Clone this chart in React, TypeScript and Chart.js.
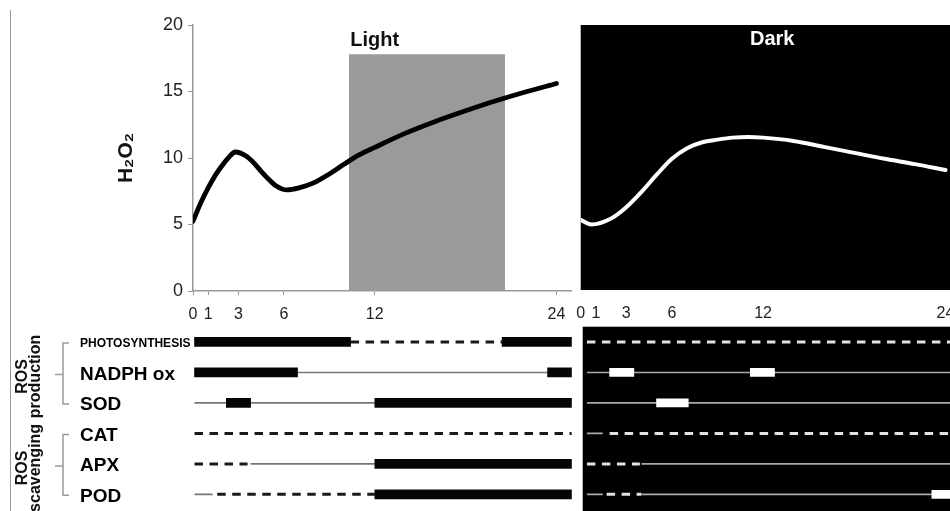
import React, { useEffect, useRef } from 'react';
import { Chart, registerables } from 'chart.js';

Chart.register(...registerables);

const FONT = "'Liberation Sans', Arial, Helvetica, sans-serif";
Chart.defaults.font.family = FONT;
Chart.defaults.color = '#222';

// ---------------- data ----------------
const hourTicks = [0, 1, 3, 6, 12, 24];
const h2o2Ticks = [0, 5, 10, 15, 20];

const lightHours = [0, 0.5, 1, 1.5, 2, 2.4, 2.8, 3.5, 4, 4.5, 5, 5.5, 6.2, 7, 8, 9, 10, 11, 12, 14, 16, 18, 20, 22, 24];
const lightH2O2 = [5.25, 6.6, 7.75, 8.75, 9.55, 10.1, 10.45, 10.15, 9.65, 9.0, 8.4, 7.9, 7.6, 7.75, 8.15, 8.8, 9.55, 10.25, 10.8, 11.85, 12.75, 13.55, 14.3, 14.98, 15.6];

const darkHours = [0, 0.7, 2, 3, 4, 5, 6, 7, 8, 9, 10, 11, 12, 14, 16, 18, 20, 22, 24];
const darkH2O2 = [5.3, 4.95, 5.4, 6.25, 7.4, 8.7, 9.9, 10.7, 11.15, 11.35, 11.5, 11.55, 11.5, 11.25, 10.8, 10.35, 9.9, 9.5, 9.05];

const lightPeriod = [10.3, 20.6];
const lightPeriodTop = 17.8;
const panelTitles = ['Light', 'Dark'];
const panelTitleHours = [12, 12.6];
const yAxisTitle = 'H₂O₂';

const rowLabels = ['PHOTOSYNTHESIS', 'NADPH ox', 'SOD', 'CAT', 'APX', 'POD'];
const groupTitles = [['ROS', 'production'], ['ROS', 'scavenging']];
const groupRows = [[0, 2], [3, 5]];

// [row, startHour, endHour]
const lightBars = [[0, 0.1, 10.4], [0, 20.4, 25], [1, 0.1, 6.9], [1, 23.4, 25], [2, 2.2, 3.8], [2, 12, 25], [4, 12, 25], [5, 12, 25]];
const lightThin = [[1, 6.9, 23.4], [2, 0.1, 2.2], [2, 3.8, 12], [4, 3.8, 12], [5, 0.1, 1.3]];
const lightDashed = [[0, 10.4, 20.4], [3, 0.1, 25], [4, 0.1, 3.6], [5, 1.6, 12]];

const darkBars = [[1, 1.5, 3.1], [1, 10.8, 12.4], [2, 4.6, 6.7], [5, 22.8, 24]];
const darkThin = [[1, 0, 1.5], [1, 3.1, 10.8], [1, 12.4, 24], [2, 0, 4.6], [2, 6.7, 24], [3, 0, 1.05], [4, 3.6, 24], [5, 0, 1.05], [5, 3.6, 22.8]];
const darkDashed = [[0, 0, 24], [3, 1.5, 24], [4, 0, 3.5], [5, 1.3, 3.6]];

// ---------------- helpers ----------------
const setHourTicks = (s: any) => {
  s.ticks = hourTicks.map((v) => ({ value: v }));
};

const periodLabel = (id: string, text: string, hour: number, color: string, yFn: (c: any) => number) => ({
  id,
  afterDatasetsDraw(chart: any) {
    const { ctx } = chart;
    const x = chart.scales.x.getPixelForValue(hour);
    ctx.save();
    ctx.font = `bold 20px ${FONT}`;
    ctx.fillStyle = color;
    ctx.textAlign = 'center';
    ctx.textBaseline = 'alphabetic';
    ctx.fillText(text, x, yFn(chart));
    ctx.restore();
  },
});

const blackArea = (toBottom: boolean) => ({
  id: 'blackArea',
  beforeDatasetsDraw(chart: any) {
    const { ctx, chartArea } = chart;
    ctx.save();
    ctx.fillStyle = '#000';
    const bottom = toBottom ? chart.height : chartArea.bottom;
    ctx.fillRect(chartArea.left, chartArea.top, chartArea.right - chartArea.left, bottom - chartArea.top);
    ctx.restore();
  },
});

const bracketPlugin = {
  id: 'brackets',
  afterDraw(chart: any) {
    const { ctx } = chart;
    const y = chart.scales.y;
    ctx.save();
    groupRows.forEach(([a, b], gi) => {
      const y1 = y.getPixelForValue(a) + 1;
      const y2 = y.getPixelForValue(b) + 1;
      const ym = (y1 + y2) / 2 + 1;
      ctx.strokeStyle = '#9a9a9a';
      ctx.lineWidth = 1.5;
      ctx.beginPath();
      ctx.moveTo(69, y1);
      ctx.lineTo(63, y1);
      ctx.lineTo(63, y2);
      ctx.lineTo(69, y2);
      ctx.moveTo(63, ym);
      ctx.lineTo(55, ym);
      ctx.stroke();
      ctx.fillStyle = '#111';
      ctx.font = `bold 16px ${FONT}`;
      ctx.textAlign = 'center';
      ctx.textBaseline = 'alphabetic';
      const [l1, l2] = groupTitles[gi];
      ctx.save();
      ctx.translate(27, ym + 2);
      ctx.rotate(-Math.PI / 2);
      ctx.fillText(l1, 0, 0);
      ctx.restore();
      ctx.save();
      ctx.translate(39.5, ym + 2);
      ctx.rotate(-Math.PI / 2);
      ctx.fillText(l2, 0, 0);
      ctx.restore();
    });
    ctx.restore();
  },
};

const segDatasets = (
  bars: number[][],
  thin: number[][],
  dashed: number[][],
  barColor: string,
  thinColor: string,
  dashColor: string,
  barThick: number
) => {
  const ds: any[] = [];
  ds.push({
    type: 'bar',
    data: bars.map(([r, a, b]) => ({ x: [a, b], y: rowLabels[r] })),
    backgroundColor: barColor,
    borderWidth: 0,
    barThickness: barThick,
    grouped: false,
    order: 0,
  });
  thin.forEach(([r, a, b]) =>
    ds.push({
      type: 'line',
      data: [{ x: a, y: rowLabels[r] }, { x: b, y: rowLabels[r] }],
      borderColor: thinColor,
      borderWidth: 1.6,
      pointRadius: 0,
      order: 1,
    })
  );
  dashed.forEach(([r, a, b]) =>
    ds.push({
      type: 'line',
      data: [{ x: a, y: rowLabels[r] }, { x: b, y: rowLabels[r] }],
      borderColor: dashColor,
      borderWidth: 3,
      borderDash: [8.5, 6.5],
      pointRadius: 0,
      order: 1,
    })
  );
  return ds;
};

const baseOpts = {
  responsive: false,
  animation: false,
  events: [],
  devicePixelRatio: 1,
  plugins: { legend: { display: false }, tooltip: { enabled: false } },
};

export default function App() {
  const refA = useRef<HTMLCanvasElement>(null);
  const refB = useRef<HTMLCanvasElement>(null);
  const refC = useRef<HTMLCanvasElement>(null);
  const refD = useRef<HTMLCanvasElement>(null);

  useEffect(() => {
    const charts: Chart[] = [];

    // Top-left: Light
    charts.push(
      new Chart(refA.current as HTMLCanvasElement, {
        type: 'line',
        data: {
          datasets: [
            {
              data: lightHours.map((h, i) => ({ x: h, y: lightH2O2[i] })),
              borderColor: '#000',
              borderWidth: 4.8,
              pointRadius: 0,
              cubicInterpolationMode: 'monotone',
              borderCapStyle: 'round',
              borderJoinStyle: 'round',
              fill: false,
              order: 0,
            },
            {
              data: [
                { x: lightPeriod[0], y: lightPeriodTop },
                { x: lightPeriod[1], y: lightPeriodTop },
              ],
              borderWidth: 0,
              pointRadius: 0,
              fill: 'origin',
              backgroundColor: '#9a9a9a',
              order: 1,
            },
          ],
        } as any,
        options: {
          ...baseOpts,
          layout: { padding: { left: 114, top: 25, right: 3.2, bottom: 0 } },
          scales: {
            x: {
              type: 'linear',
              min: 0,
              max: 25,
              afterBuildTicks: setHourTicks,
              afterFit: (s: any) => {
                s.height = 34;
              },
              grid: { display: true, drawOnChartArea: false, tickLength: 4, color: '#999' },
              border: { color: '#999', width: 1.5 },
              ticks: { font: { size: 16 }, padding: 9.5, color: '#222', autoSkip: false, maxRotation: 0 },
            },
            y: {
              min: 0,
              max: 20,
              afterBuildTicks: (s: any) => {
                s.ticks = h2o2Ticks.map((v) => ({ value: v }));
              },
              afterFit: (s: any) => {
                s.width = 79;
              },
              grid: { display: true, drawOnChartArea: false, tickLength: 5, color: '#999' },
              border: { color: '#999', width: 1.5 },
              ticks: { font: { size: 18 }, padding: 5, color: '#222' },
              title: { display: true, text: yAxisTitle, font: { size: 21, weight: 'bold' }, padding: 0, color: '#111' },
            },
          },
        } as any,
        plugins: [
          periodLabel('lightLabel', panelTitles[0], panelTitleHours[0], '#111', (c) => c.scales.y.getPixelForValue(lightPeriodTop) - 8),
        ],
      })
    );

    // Top-right: Dark
    charts.push(
      new Chart(refB.current as HTMLCanvasElement, {
        type: 'line',
        data: {
          datasets: [
            {
              data: darkHours.map((h, i) => ({ x: h, y: darkH2O2[i] })),
              borderColor: '#fff',
              borderWidth: 4,
              pointRadius: 0,
              cubicInterpolationMode: 'monotone',
              borderCapStyle: 'round',
              borderJoinStyle: 'round',
              fill: false,
            },
          ],
        } as any,
        options: {
          ...baseOpts,
          layout: { padding: { left: 10.7, top: 25, right: 20, bottom: 0 } },
          scales: {
            x: {
              type: 'linear',
              min: 0,
              max: 24.3,
              afterBuildTicks: setHourTicks,
              afterFit: (s: any) => {
                s.height = 35;
                s.paddingLeft = 0;
                s.paddingRight = 0;
              },
              grid: { display: false, drawTicks: true, tickLength: 13.5 },
              border: { display: false },
              ticks: { font: { size: 16 }, padding: 0, color: '#222', autoSkip: false, maxRotation: 0 },
            },
            y: { display: false, min: 0, max: 20 },
          },
        } as any,
        plugins: [
          blackArea(false),
          periodLabel('darkLabel', panelTitles[1], panelTitleHours[1], '#fff', (c) => c.chartArea.top + 20),
        ],
      })
    );

    // Bottom-left: light-period activity timeline
    charts.push(
      new Chart(refC.current as HTMLCanvasElement, {
        type: 'bar',
        data: { datasets: segDatasets(lightBars, lightThin, lightDashed, '#050505', '#777', '#1a1a1a', 9) } as any,
        options: {
          ...baseOpts,
          indexAxis: 'y',
          layout: { padding: { left: 80, top: 6.7, right: 3.2, bottom: 1.4 } },
          scales: {
            x: { type: 'linear', min: 0, max: 25, display: false },
            y: {
              type: 'category',
              labels: rowLabels,
              offset: true,
              afterFit: (s: any) => {
                s.width = 113;
                s.paddingTop = 0;
                s.paddingBottom = 0;
              },
              grid: { display: false, drawTicks: false },
              border: { display: false },
              ticks: {
                crossAlign: 'far',
                padding: 0,
                labelOffset: 2,
                color: '#000',
                font: (c: any) => (c.index === 0 ? { size: 12, weight: 'bold' } : { size: 19, weight: 'bold' }),
              },
            },
          },
        } as any,
        plugins: [bracketPlugin],
      })
    );

    // Bottom-right: dark-period activity timeline
    charts.push(
      new Chart(refD.current as HTMLCanvasElement, {
        type: 'bar',
        data: { datasets: segDatasets(darkBars, darkThin, darkDashed, '#ffffff', '#aaaaaa', '#e2e2e2', 8) } as any,
        options: {
          ...baseOpts,
          indexAxis: 'y',
          layout: { padding: { left: 7.7, top: 6.7, right: 0, bottom: 1.4 } },
          scales: {
            x: { type: 'linear', min: -0.28, max: 24, display: false },
            y: { type: 'category', labels: rowLabels, offset: true, display: false },
          },
        } as any,
        plugins: [blackArea(true)],
      })
    );

    return () => charts.forEach((c) => c.destroy());
  }, []);

  const abs = (left: number, top: number): React.CSSProperties => ({ position: 'absolute', left, top });

  return (
    <div
      style={{
        position: 'absolute',
        left: 0,
        top: 0,
        width: 950,
        height: 511,
        overflow: 'hidden',
        background: '#fff',
      }}
    >
      <div style={{ position: 'absolute', left: 10, top: 10, width: 1, height: 501, background: '#999' }} />
      <canvas ref={refC} width={575} height={191} style={abs(0, 320)} />
      <canvas ref={refD} width={375} height={191} style={abs(575, 320)} />
      <canvas ref={refA} width={575} height={325} style={abs(0, 0)} />
      <canvas ref={refB} width={400} height={325} style={abs(570, 0)} />
    </div>
  );
}
